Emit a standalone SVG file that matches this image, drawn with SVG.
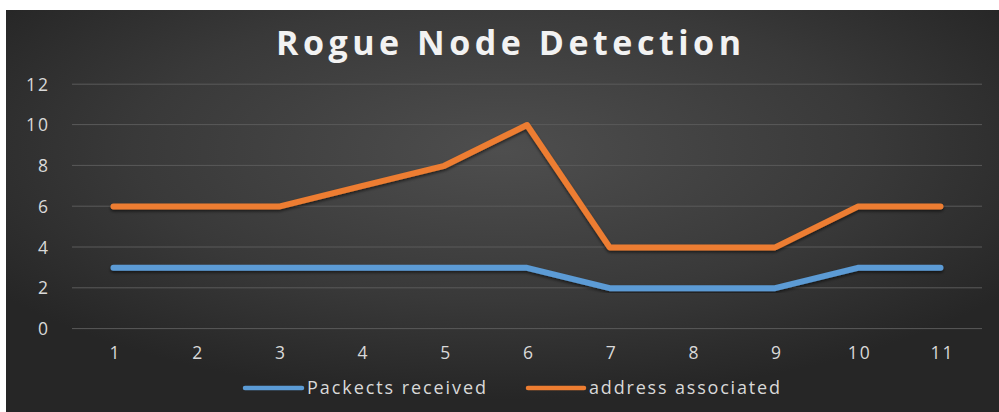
<svg xmlns="http://www.w3.org/2000/svg" width="999" height="412" viewBox="0 0 999 412">
  <defs>
    <radialGradient id="bg" cx="0.5" cy="0.35" r="0.62" gradientUnits="objectBoundingBox">
      <stop offset="0" stop-color="#4e4e4e"/>
      <stop offset="0.6" stop-color="#393939"/>
      <stop offset="1" stop-color="#262626"/>
    </radialGradient>
    <filter id="shadow" x="-5%" y="-20%" width="110%" height="140%">
      <feDropShadow dx="0" dy="2" stdDeviation="1.5" flood-color="#000" flood-opacity="0.55"/>
    </filter>
    <style>
      .grid { stroke: #5a5a5a; stroke-width: 1; fill: none; }
      .axis { font-family: "Open Sans", "Liberation Sans", sans-serif; font-size: 17.5px; fill: #d9d9d9; }
      .series { fill: none; stroke-width: 6; stroke-linejoin: round; stroke-linecap: round; filter: url(#shadow); }
      .packets { stroke: #5b9bd5; }
      .address { stroke: #ed7d31; }
      .key { fill: none; stroke-width: 4.5; stroke-linecap: round; }
      .legend { font-family: "Open Sans", "Liberation Sans", sans-serif; font-size: 18px; fill: #d9d9d9; }
      .title { font-family: "Open Sans", "Liberation Sans", sans-serif; font-size: 34px; font-weight: bold; fill: #f2f2f2; }
    </style>
  </defs>

  <rect x="0" y="0" width="999" height="412" fill="#ffffff"/>
  <rect id="chart-area" x="6" y="10" width="993" height="402" fill="url(#bg)"/>

  <g id="title">
    <text class="title" x="276" y="55" textLength="465" lengthAdjust="spacing">Rogue Node Detection</text>
  </g>

  <!-- horizontal gridlines at 0..12 -->
  <g id="gridlines">
    <line class="grid" x1="72" y1="84.2" x2="982" y2="84.2"/>
    <line class="grid" x1="72" y1="124.6" x2="982" y2="124.6"/>
    <line class="grid" x1="72" y1="165.4" x2="982" y2="165.4"/>
    <line class="grid" x1="72" y1="206.2" x2="982" y2="206.2"/>
    <line class="grid" x1="72" y1="247" x2="982" y2="247"/>
    <line class="grid" x1="72" y1="287.8" x2="982" y2="287.8"/>
    <line class="grid" x1="72" y1="328.6" x2="982" y2="328.6"/>
  </g>

  <g id="y-axis" text-anchor="end">
    <text class="axis" x="50" y="90.5" letter-spacing="2">12</text>
    <text class="axis" x="50" y="131" letter-spacing="2">10</text>
    <text class="axis" x="48" y="171.5">8</text>
    <text class="axis" x="48" y="212.5">6</text>
    <text class="axis" x="48" y="253.5">4</text>
    <text class="axis" x="48" y="294">2</text>
    <text class="axis" x="48" y="335">0</text>
  </g>

  <g id="x-axis" text-anchor="middle">
    <text class="axis" x="114.5" y="358.5">1</text>
    <text class="axis" x="197.2" y="358.5">2</text>
    <text class="axis" x="279.9" y="358.5">3</text>
    <text class="axis" x="362.6" y="358.5">4</text>
    <text class="axis" x="445.3" y="358.5">5</text>
    <text class="axis" x="528" y="358.5">6</text>
    <text class="axis" x="610.7" y="358.5">7</text>
    <text class="axis" x="693.4" y="358.5">8</text>
    <text class="axis" x="776.1" y="358.5">9</text>
    <text class="axis" x="859.8" y="358.5" letter-spacing="2">10</text>
    <text class="axis" x="942.5" y="358.5" letter-spacing="2">11</text>
  </g>

  <g id="series">
    <polyline id="packets-received" class="series packets" points="113.5,267.8 196.2,267.8 278.9,267.8 361.6,267.8 444.3,267.8 527,267.8 609.7,288.2 692.4,288.2 775.1,288.2 857.8,267.8 940.5,267.8"/>
    <polyline id="address-associated" class="series address" points="113.5,206.6 196.2,206.6 278.9,206.6 361.6,186.2 444.3,165.8 527,125 609.7,247.4 692.4,247.4 775.1,247.4 857.8,206.6 940.5,206.6"/>
  </g>

  <g id="legend">
    <line class="key packets" x1="245" y1="388" x2="302" y2="388"/>
    <text class="legend" x="307" y="394" textLength="179" lengthAdjust="spacing">Packects received</text>
    <line class="key address" x1="528" y1="388" x2="584" y2="388"/>
    <text class="legend" x="589" y="394" textLength="191" lengthAdjust="spacing">address associated</text>
  </g>
</svg>
